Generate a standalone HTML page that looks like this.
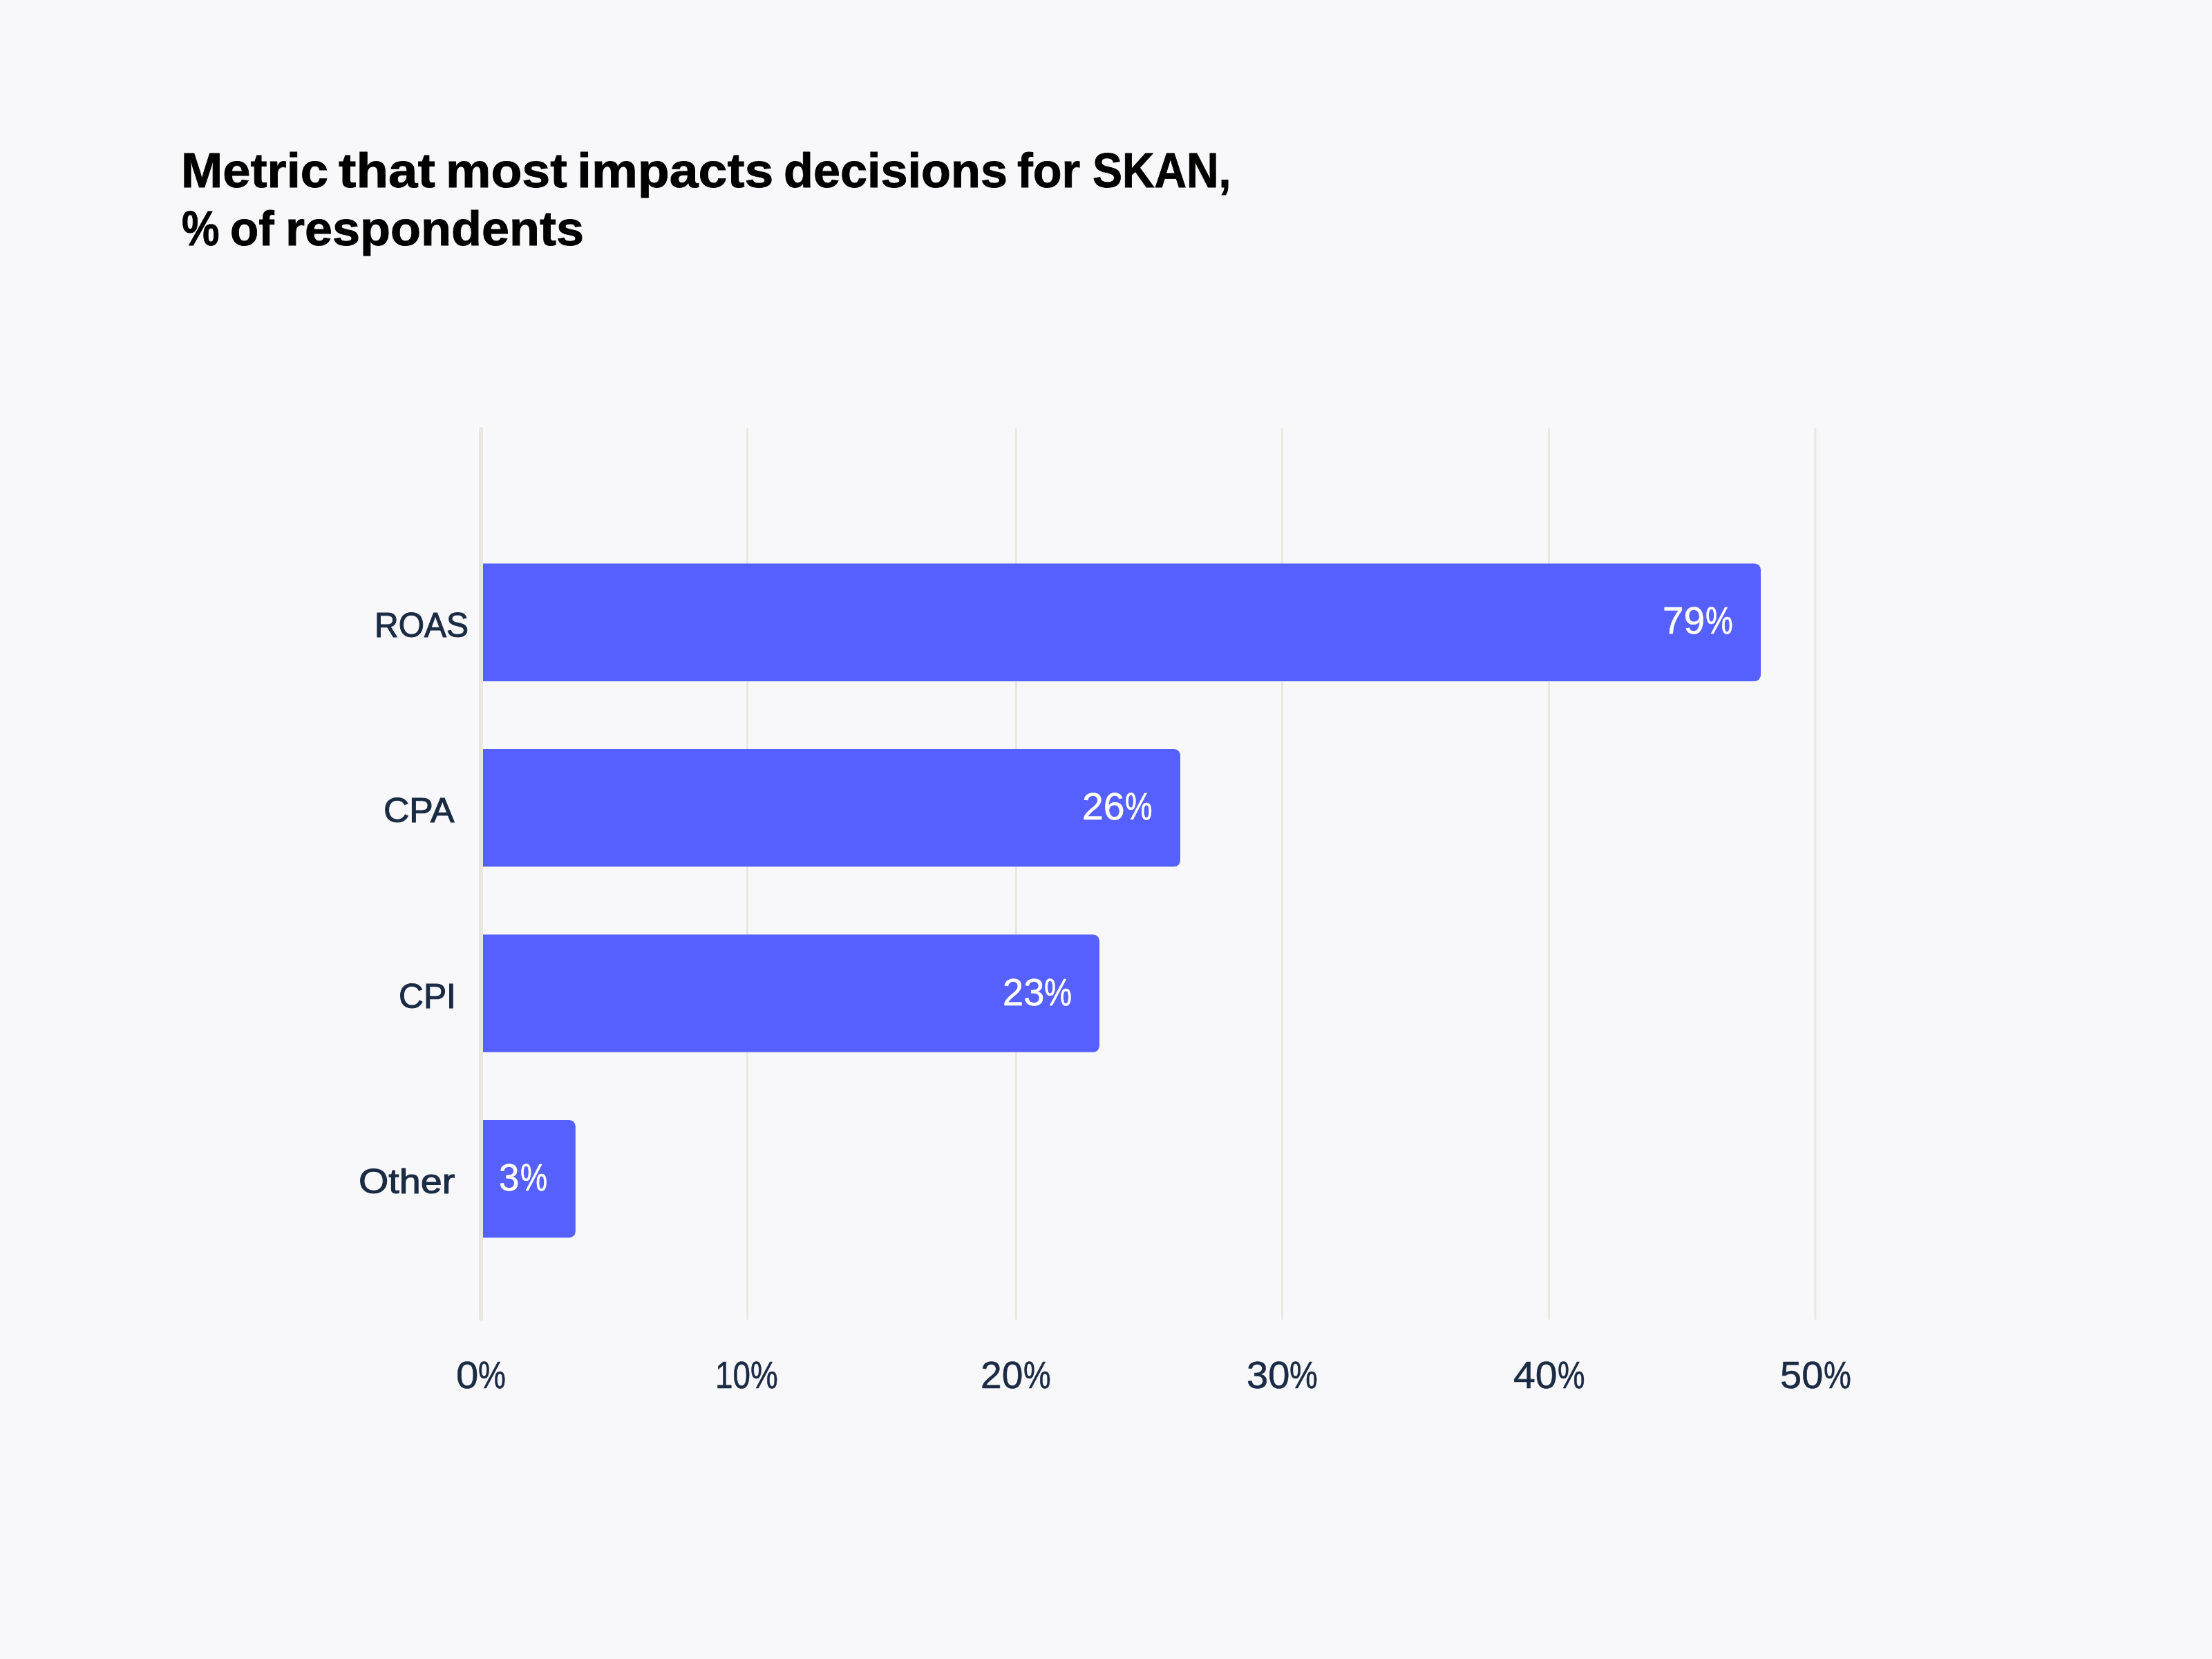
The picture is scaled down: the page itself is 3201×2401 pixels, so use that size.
<!DOCTYPE html>
<html lang="en">
<head>
<meta charset="utf-8">
<title>Metric that most impacts decisions for SKAN</title>
<style>
html,body{margin:0;padding:0;background:#f8f8fa;}
body{width:3201px;height:2401px;position:relative;overflow:hidden;font-family:"Liberation Sans",sans-serif;}
.chart{position:absolute;left:0;top:0;width:3201px;height:2401px;}
.t{position:absolute;white-space:nowrap;line-height:1;margin:0;transform-origin:0 0;}
h1{position:absolute;left:0;top:0;margin:0;font-weight:700;font-size:70px;line-height:1;color:#000;-webkit-text-stroke:0.9px #000;}
.w{position:absolute;white-space:nowrap;transform-origin:0 0;}
.l{font-size:50.5px;color:#1b2b44;-webkit-text-stroke:1.1px #1b2b44;}
.x,.v{position:absolute;left:0;top:0;line-height:1;}
.x{font-size:55px;color:#1b2b44;-webkit-text-stroke:0.6px #1b2b44;}
.v{font-size:55px;color:#fff;-webkit-text-stroke:0.5px #fff;}
</style>
</head>
<body>
<svg class="chart" width="3201" height="2401" viewBox="0 0 3201 2401" aria-hidden="true">
<g stroke="#e8e8e0" stroke-linecap="round">
<line x1="696" x2="696" y1="621" y2="1908.5" stroke-width="6"/>
<line x1="1081.5" x2="1081.5" y1="621" y2="1908.5" stroke-width="3"/>
<line x1="1470.4" x2="1470.4" y1="621" y2="1908.5" stroke-width="3"/>
<line x1="1855.5" x2="1855.5" y1="621" y2="1908.5" stroke-width="3"/>
<line x1="2241.5" x2="2241.5" y1="621" y2="1908.5" stroke-width="3"/>
<line x1="2626.9" x2="2626.9" y1="621" y2="1908.5" stroke-width="3"/>
</g>
<g fill="#5560ff">
<path d="M699 815.6H2539a9 9 0 0 1 9 9V976.9a9 9 0 0 1 -9 9H699Z"/>
<path d="M699 1084H1699a9 9 0 0 1 9 9V1245.3a9 9 0 0 1 -9 9H699Z"/>
<path d="M699 1352.5H1582a9 9 0 0 1 9 9V1513.8a9 9 0 0 1 -9 9H699Z"/>
<path d="M699 1620.9H823.8a9 9 0 0 1 9 9V1782.2a9 9 0 0 1 -9 9H699Z"/>
</g>
</svg>
<h1><span class="w" style="left:261.7px;top:211.9px;transform:scaleX(1.0333)">Metric</span> <span class="w" style="left:489.6px;top:211.9px;transform:scaleX(1.0893)">that</span> <span class="w" style="left:644.6px;top:211.9px;transform:scaleX(1.0508)">most</span> <span class="w" style="left:835.2px;top:211.9px;transform:scaleX(1.0746)">impacts</span> <span class="w" style="left:1133.6px;top:211.9px;transform:scaleX(1.0033)">decisions</span> <span class="w" style="left:1472.3px;top:211.9px;transform:scaleX(0.9773)">for</span> <span class="w" style="left:1580.5px;top:211.9px;transform:scaleX(0.9206)">SKAN,</span><br>
<span class="w" style="left:262.9px;top:296.3px;transform:scaleX(0.8761)">%</span> <span class="w" style="left:332.8px;top:296.3px;transform:scaleX(0.964)">of</span> <span class="w" style="left:412.7px;top:296.3px;transform:scaleX(1.0282)">respondents</span></h1>
<div class="t l" style="left:542.3px;top:879.7px;transform:scaleX(0.95)">ROAS</div>
<div class="t l" style="left:554.8px;top:1147.9px;transform:scaleX(1.0239)">CPA</div>
<div class="t l" style="left:577.1px;top:1416.9px;transform:scaleX(0.9847)">CPI</div>
<div class="t l" style="left:518.8px;top:1684.9px;transform:scaleX(1.1026)">Other</div>
<div class="v"><span class="w" style="left:2406.1px;top:870.9px;transform:scaleX(0.9998)">79</span><span class="w" style="left:2467.6px;top:870.9px;transform:scaleX(0.8146)">%</span></div>
<div class="v"><span class="w" style="left:1565.8px;top:1139.9px;transform:scaleX(1.0064)">26</span><span class="w" style="left:1627.9px;top:1139.9px;transform:scaleX(0.8093)">%</span></div>
<div class="v"><span class="w" style="left:1450.9px;top:1409px;transform:scaleX(0.9851)">23</span><span class="w" style="left:1510.6px;top:1409px;transform:scaleX(0.82)">%</span></div>
<div class="v"><span class="w" style="left:722.4px;top:1676.9px;transform:scaleX(0.9641)">3</span><span class="w" style="left:752.5px;top:1676.9px;transform:scaleX(0.7999)">%</span></div>
<div class="x"><span class="w" style="left:659.6px;top:1962.9px;transform:scaleX(1.0567)">0</span><span class="w" style="left:691.6px;top:1962.9px;transform:scaleX(0.8161)">%</span></div>
<div class="x"><span class="w" style="left:1034.8px;top:1962.9px;transform:scaleX(0.8312)">10</span><span class="w" style="left:1085.9px;top:1962.9px;transform:scaleX(0.8123)">%</span></div>
<div class="x"><span class="w" style="left:1418.7px;top:1962.9px;transform:scaleX(1.0024)">20</span><span class="w" style="left:1481px;top:1962.9px;transform:scaleX(0.8116)">%</span></div>
<div class="x"><span class="w" style="left:1804.1px;top:1962.9px;transform:scaleX(1.0177)">30</span><span class="w" style="left:1866px;top:1962.9px;transform:scaleX(0.835)">%</span></div>
<div class="x"><span class="w" style="left:2189.9px;top:1962.9px;transform:scaleX(1.0392)">40</span><span class="w" style="left:2254.2px;top:1962.9px;transform:scaleX(0.8085)">%</span></div>
<div class="x"><span class="w" style="left:2575.7px;top:1962.9px;transform:scaleX(1.0178)">50</span><span class="w" style="left:2638.9px;top:1962.9px;transform:scaleX(0.8146)">%</span></div>
</body>
</html>
